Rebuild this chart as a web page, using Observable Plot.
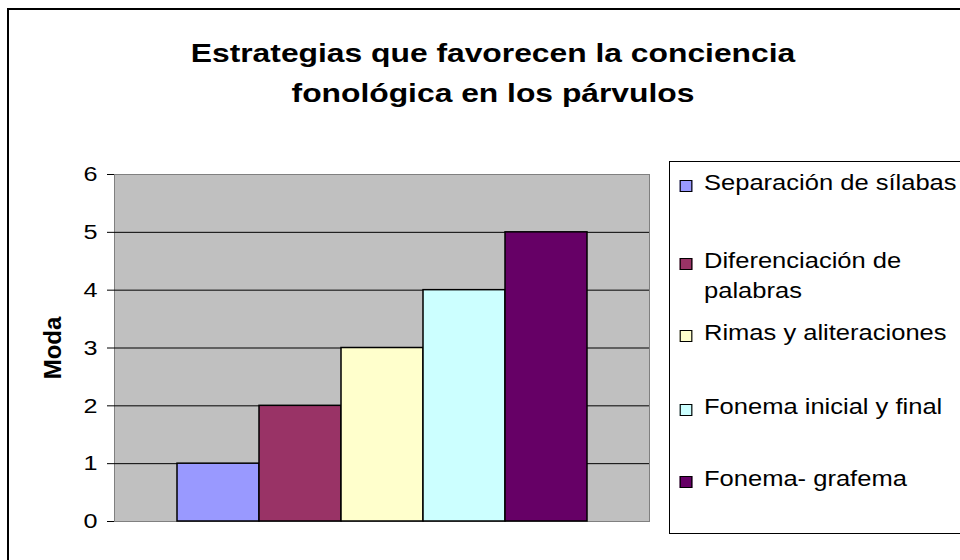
<!DOCTYPE html>
<html>
<head>
<meta charset="utf-8">
<script src="https://cdn.jsdelivr.net/npm/d3@7"></script>
<script src="https://cdn.jsdelivr.net/npm/@observablehq/plot@0.6"></script>
<style>
  html, body { margin: 0; padding: 0; background: #fff; overflow: hidden; }
  #wrap { position: relative; width: 960px; height: 560px; overflow: hidden; font-family: "Liberation Sans", Arial, sans-serif; }
  #wrap svg { position: absolute; left: 0; top: 0; }
  #border { position: absolute; left: 7px; top: 8px; width: 1000px; height: 600px; border-left: 2px solid #000; border-top: 2px solid #000; }
  #title { position: absolute; left: 0; top: 33px; width: 986px; text-align: center; font-weight: bold; font-size: 26.5px; line-height: 40px; color: #000; transform: scaleX(1.2); transform-origin: 493px 0; }
  #legend { position: absolute; left: 669px; top: 161px; width: 500px; height: 371px; border: 1px solid #000; background: #fff; }
  .item { position: absolute; left: 34px; width: 225px; font-size: 22px; line-height: 30px; color: #000; transform: scaleX(1.16); transform-origin: 0 0; }
  .sw { position: absolute; left: -21px; top: 12px; width: 11px; height: 12px; border: 1px solid #000; box-sizing: border-box; }
  g[aria-label="y-axis tick label"] { font-size: 21px !important; }
  g[aria-label="y-axis tick label"] text { font-size: 21px !important; }
</style>
</head>
<body>
<div id="wrap">
  <div id="border"></div>
  <div id="title">Estrategias que favorecen la conciencia<br>fonológica en los párvulos</div>
  <div id="legend"></div>
</div>
<script>
const categories = [
  "Separación de sílabas",
  "Diferenciación de palabras",
  "Rimas y aliteraciones",
  "Fonema inicial y final",
  "Fonema- grafema"
];
const values = [1, 2, 3, 4, 5];
const colors = ["#9999FF", "#993366", "#FFFFCC", "#CCFFFF", "#660066"];
const yTicks = [0, 1, 2, 3, 4, 5, 6];
const yLabel = "Moda";

const data = categories.map((c, i) => ({cat: c, value: values[i]}));

const chart = Plot.plot({
  width: 960,
  height: 560,
  marginLeft: 114,
  marginRight: 311,
  marginTop: 174,
  marginBottom: 39,
  style: {fontFamily: "'Liberation Sans', Arial, sans-serif", background: "transparent", color: "#000"},
  x: {type: "band", domain: categories, paddingInner: 0, paddingOuter: 0.756, axis: null},
  y: {domain: [0, 6]},
  color: {domain: categories, range: colors},
  marks: [
    Plot.frame({fill: "#C0C0C0", stroke: "#808080"}),
    Plot.ruleY(yTicks.filter(t => t > 0 && t < 6), {stroke: "#000", strokeWidth: 1}),
    Plot.barY(data, {x: "cat", y: "value", fill: "cat", stroke: "#000", strokeWidth: 1.5}),
    Plot.axisY({ticks: yTicks, tickFormat: "d", tickSize: 7, tickPadding: 10, fontSize: 21, label: null, stroke: "#000"}),
    Plot.text([yLabel], {text: d => d, frameAnchor: "left", dx: -61, rotate: -90, textAnchor: "middle", lineAnchor: "middle", fontSize: 24, fontWeight: "bold"})
  ]
});
// widen tick labels slightly (the reference glyphs are horizontally stretched)
chart.querySelectorAll('g[aria-label="y-axis tick label"] text').forEach(t => {
  const tr = t.getAttribute("transform") || "";
  t.setAttribute("transform", (tr + " scale(1.2,1)").trim());
});
document.getElementById("wrap").insertBefore(chart, document.getElementById("border"));

// legend
const legend = document.getElementById("legend");
const tops = [6, 84, 156, 230, 302];
categories.forEach((c, i) => {
  const it = document.createElement("div");
  it.className = "item";
  it.style.top = tops[i] + "px";
  const sw = document.createElement("div");
  sw.className = "sw";
  sw.style.background = colors[i];
  it.appendChild(sw);
  it.appendChild(document.createTextNode(c));
  legend.appendChild(it);
});
</script>
</body>
</html>
